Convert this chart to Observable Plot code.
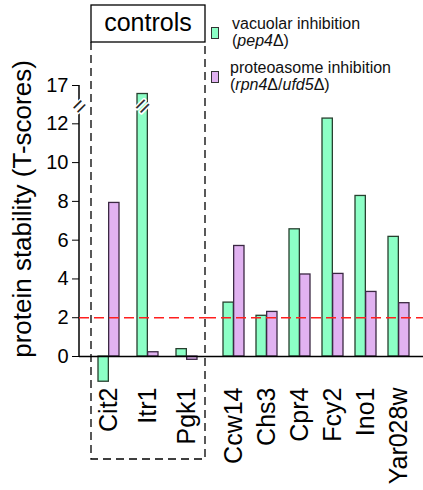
<!DOCTYPE html>
<html><head><meta charset="utf-8">
<script src="https://cdn.jsdelivr.net/npm/d3@7"></script>
<script src="https://cdn.jsdelivr.net/npm/@observablehq/plot@0.6"></script>
<style>
body{margin:0;background:#fff;}
#wrap{position:relative;width:423px;height:490px;overflow:hidden;font-family:"Liberation Sans",Arial,sans-serif;background:#fff;}
#left,#right,#over{position:absolute;top:0;}
#left{left:0;} #right{left:206px;} #over{left:0;pointer-events:none;}
.lg{position:absolute;font-size:16px;line-height:17px;color:#111;white-space:nowrap;}
.sw{position:absolute;width:8px;height:12px;border:1.3px solid #333;box-sizing:border-box;}
</style></head><body>
<div id="wrap">
  <div id="left"></div>
  <div id="right"></div>
  <div class="sw" style="left:211px;top:27px;background:#8cffc6;"></div>
  <div class="lg" style="left:232px;top:15px;">vacuolar inhibition<br>(<i>pep4</i>Δ)</div>
  <div class="sw" style="left:211px;top:71px;background:#e1b2f1;"></div>
  <div class="lg" style="left:230px;top:59px;">proteoasome inhibition<br>(<i>rpn4</i>Δ/<i>ufd5</i>Δ)</div>
  <svg id="over" width="423" height="490">
    <rect x="91" y="5" width="114" height="37" fill="white" stroke="black" stroke-width="1.3"></rect>
    <text x="148" y="31" text-anchor="middle" font-family="Liberation Sans, Arial, sans-serif" font-size="25">controls</text>
    <path d="M91,42V459H205V42" fill="none" stroke="black" stroke-width="1.3" stroke-dasharray="8,5"></path>
  </svg>
</div>
<script>
// ---- data ----
const controls = ["Cit2", "Itr1", "Pgk1"];
const tests = ["Ccw14", "Chs3", "Cpr4", "Fcy2", "Ino1", "Yar028w"];
const vacuolar = [-1.3, 15.2, 0.38, 2.78, 2.1, 6.56, 12.27, 8.28, 6.17];
const proteasome = [7.92, 0.22, -0.17, 5.7, 2.3, 4.23, 4.26, 3.33, 2.75];
const yTicks = [0, 2, 4, 6, 8, 10, 12, 17];
const threshold = [2];
const yBreak = [12.9];
const yLabel = "protein stability (T-scores)";

// ---- styles / layout ----
const green = "#8cffc6", greenStroke = "#27402f";
const purple = "#e1b2f1", purpleStroke = "#3b2843";
// broken axis: values above 13 are compressed (axis break drawn between 12 and 17)
const breakAt = 13, squeeze = 0.244;
const tf = v => v <= breakAt ? v : breakAt + (v - breakAt) * squeeze;
const inv = v => v <= breakAt ? v : breakAt + (v - breakAt) / squeeze;
const yDomain = [-1.5, tf(17)];
const yRange = [385.1, 85];
const H = 490, MB = 107, MT = 34;

const allCats = controls.concat(tests);
const rows = allCats.map((c, i) => ({cat: c, vac: vacuolar[i], pro: proteasome[i]}));
const leftRows = rows.filter(d => controls.includes(d.cat));
const rightRows = rows.filter(d => tests.includes(d.cat));

function marks(data, halfBar) {
  return [
    Plot.barY(data, {x: "cat", y: "vac", fill: green, stroke: greenStroke, strokeWidth: 1.3, insetRight: halfBar}),
    Plot.barY(data, {x: "cat", y: "pro", fill: purple, stroke: purpleStroke, strokeWidth: 1.3, insetLeft: halfBar}),
    Plot.ruleY(threshold, {stroke: "#ff1f1f", strokeWidth: 1.3, strokeDasharray: "10,5"}),
    Plot.ruleY([0], {stroke: "black", strokeWidth: 1.5}),
    Plot.axisX({tickRotate: -90, tickSize: 0, tickPadding: 4, fontSize: 25, label: null, fill: "black"})
  ];
}

const yScale = {domain: yDomain, range: yRange, transform: tf, axis: null};
const half = 10.65;
const leftPlot = Plot.plot({
  width: 206, height: H, marginLeft: 79, marginRight: 0, marginTop: MT, marginBottom: MB,
  style: {fontFamily: "Liberation Sans, Arial, sans-serif", color: "black", background: "transparent", overflow: "visible"},
  x: {domain: controls, insetLeft: 10, paddingInner: 0.454, paddingOuter: 0.227, axis: null},
  y: yScale,
  marks: [
    ...marks(leftRows, half),
    // axis ticks are placed in the (already broken) scale space, labelled with the original values
    Plot.axisY({ticks: yTicks.map(tf), tickSize: 7, tickPadding: 4, fontSize: 20, label: null, tickFormat: d => String(Math.round(inv(d)))}),
    Plot.text(yBreak, {y: d => d, frameAnchor: "left", textAnchor: "middle", text: () => "=", rotate: -45, fontSize: 22, fill: "#222", stroke: "white", strokeWidth: 3, paintOrder: "stroke"}),
    Plot.text([{cat: "Itr1", y: yBreak[0]}], {x: "cat", y: "y", dx: -half / 2, text: () => "=", rotate: -45, fontSize: 24, fill: "#333", stroke: "white", strokeWidth: 3, paintOrder: "stroke"}),
    Plot.text([yLabel], {frameAnchor: "left", textAnchor: "middle", dx: -57, rotate: -90, fontSize: 26, text: d => d, fill: "black"})
  ]
});

const rightPlot = Plot.plot({
  width: 217, height: H, marginLeft: 0, marginRight: 0, marginTop: MT, marginBottom: MB,
  style: {fontFamily: "Liberation Sans, Arial, sans-serif", color: "black", background: "transparent", overflow: "visible"},
  x: {domain: tests, insetLeft: 9.2, insetRight: 6.2, paddingInner: 0.366, paddingOuter: 0.183, axis: null},
  y: yScale,
  marks: marks(rightRows, half)
});

// y-axis line (with break), positioned with the plot's own y scale
const ys = leftPlot.scale("y");
const yPix = d3.scaleLinear(ys.domain, ys.range);
const sel = d3.select(leftPlot);
[[0, 12.55], [13.15, 17]].forEach(([a, b]) => {
  sel.insert("line", "g")
    .attr("x1", 79).attr("x2", 79)
    .attr("y1", yPix(tf(a))).attr("y2", yPix(tf(b)))
    .attr("stroke", "black").attr("stroke-width", 1.5);
});

document.getElementById("left").appendChild(leftPlot);
document.getElementById("right").appendChild(rightPlot);
</script>
</body></html>
